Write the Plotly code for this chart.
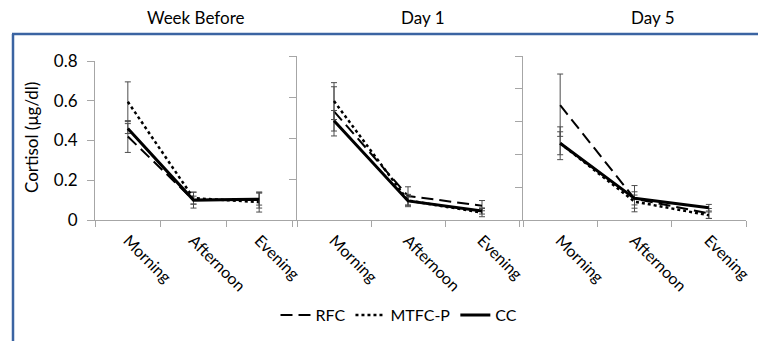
import plotly.graph_objects as go

# ---------------- data ----------------
categories = ["Morning", "Afternoon", "Evening"]
panel_titles = ["Week Before", "Day 1", "Day 5"]
series_names = ["RFC", "MTFC-P", "CC"]

rfc_week = [0.42, 0.10, 0.10]
rfc_week_err = [0.08, 0.04, 0.04]
mtfc_week = [0.595, 0.11, 0.09]
mtfc_week_err = [0.10, 0.03, 0.05]
cc_week = [0.46, 0.10, 0.105]
cc_week_err = [0.025, 0.02, 0.03]

rfc_day1 = [0.53, 0.117, 0.07]
rfc_day1_err = [0.12, 0.045, 0.025]
mtfc_day1 = [0.58, 0.095, 0.036]
mtfc_day1_err = [0.09, 0.03, 0.02]
cc_day1 = [0.484, 0.093, 0.044]
cc_day1_err = [0.05, 0.02, 0.015]

rfc_day5 = [0.70, 0.13, 0.04]
rfc_day5_err = [0.19, 0.08, 0.03]
mtfc_day5 = [0.468, 0.112, 0.029]
mtfc_day5_err = [0.10, 0.04, 0.02]
cc_day5 = [0.468, 0.132, 0.075]
cc_day5_err = [0.07, 0.04, 0.02]

y_ticks_week = [0, 0.2, 0.4, 0.6, 0.8]
y_tick_labels_week = ["0", "0.2", "0.4", "0.6", "0.8"]

# ---------------- layout helpers ----------------
W, H = 758, 341
FONT = "Lato"
AXIS_GRAY = "#A6A6A6"

def px_x(x):
    return x / W

def px_y(y):
    return 1 - y / H

panels = [
    dict(series=[(rfc_week, rfc_week_err), (mtfc_week, mtfc_week_err), (cc_week, cc_week_err)],
         xdom=(95, 292), ytop=61, yrange=[0, 0.8]),
    dict(series=[(rfc_day1, rfc_day1_err), (mtfc_day1, mtfc_day1_err), (cc_day1, cc_day1_err)],
         xdom=(297, 519), ytop=56, yrange=[0, 0.8]),
    dict(series=[(rfc_day5, rfc_day5_err), (mtfc_day5, mtfc_day5_err), (cc_day5, cc_day5_err)],
         xdom=(523, 746), ytop=56, yrange=[0, 1.0]),
]

styles = [
    dict(dash="12px,6px", width=2),
    dict(dash="dot", width=2.5),
    dict(dash="solid", width=3),
]

fig = go.Figure()
layout = dict(
    width=W, height=H, autosize=False,
    margin=dict(l=0, r=0, t=0, b=0, pad=0, autoexpand=False),
    paper_bgcolor="white", plot_bgcolor="white",
    font=dict(family=FONT, size=16, color="black"),
    showlegend=True,
    legend=dict(orientation="h", x=px_x(399), xanchor="center", y=px_y(315), yanchor="middle",
                font=dict(family=FONT, size=16, color="black"), itemwidth=30,
                bgcolor="rgba(0,0,0,0)", tracegroupgap=0),
)

for i, p in enumerate(panels):
    sfx = "" if i == 0 else str(i + 1)
    for j, (vals, errs) in enumerate(p["series"]):
        fig.add_trace(go.Scatter(
            x=categories, y=vals, mode="lines", name=series_names[j],
            legendgroup=series_names[j], showlegend=(i == 0),
            line=dict(color="black", width=styles[j]["width"], dash=styles[j]["dash"]),
            error_y=dict(type="data", array=errs, visible=True, color="#4d4d4d",
                         thickness=1, width=3),
            xaxis="x" + sfx, yaxis="y" + sfx, cliponaxis=False,
        ))
    layout["xaxis" + sfx] = dict(
        type="category", categoryorder="array", categoryarray=categories,
        range=[-0.5, 2.5], domain=[px_x(p["xdom"][0]), px_x(p["xdom"][1])],
        anchor="y" + sfx, showline=True, linecolor=AXIS_GRAY, linewidth=1,
        ticks="outside", tickson="boundaries", ticklen=6, tickcolor=AXIS_GRAY,
        tickangle=45, showgrid=False, zeroline=False, automargin=False,
        ticklabelstandoff=4,
        tickfont=dict(family=FONT, size=16, color="black"), fixedrange=True,
    )
    ydict = dict(
        range=p["yrange"], domain=[px_y(220), px_y(p["ytop"])],
        anchor="x" + sfx, showline=True, linecolor=AXIS_GRAY, linewidth=1,
        ticks="outside", ticklen=7, tickcolor=AXIS_GRAY, dtick=0.2, tick0=0,
        showgrid=False, zeroline=False, fixedrange=True, automargin=False,
    )
    if i == 0:
        ydict.update(tickmode="array", tickvals=y_ticks_week, ticktext=y_tick_labels_week,
                     tickfont=dict(family=FONT, size=17, color="black"),
                     ticklabelstandoff=6)
    else:
        ydict.update(showticklabels=False)
    layout["yaxis" + sfx] = ydict

annotations = []
title_x = [195, 423, 653]
for t, xc in zip(panel_titles, title_x):
    annotations.append(dict(text=t, x=px_x(xc), y=px_y(18), xref="paper", yref="paper",
                            showarrow=False, xanchor="center", yanchor="middle",
                            font=dict(family=FONT, size=17, color="black")))
annotations.append(dict(text="Cortisol (μg/dl)", x=px_x(31), y=px_y(138), xref="paper", yref="paper",
                        showarrow=False, textangle=-90, xanchor="center", yanchor="middle",
                        font=dict(family=FONT, size=17, color="black")))
layout["annotations"] = annotations

frame_color = "#3B64A2"
layout["shapes"] = [
    dict(type="line", xref="paper", yref="paper", x0=px_x(13), x1=px_x(13), y0=0, y1=px_y(34),
         line=dict(color=frame_color, width=2.5)),
    dict(type="line", xref="paper", yref="paper", x0=px_x(12), x1=1, y0=px_y(34), y1=px_y(34),
         line=dict(color=frame_color, width=2.5)),
]

fig.update_layout(**layout)
fig.write_html("out.html", config={"responsive": False, "displayModeBar": False},
               post_script="document.body.style.margin='0';document.body.style.overflow='hidden';")
